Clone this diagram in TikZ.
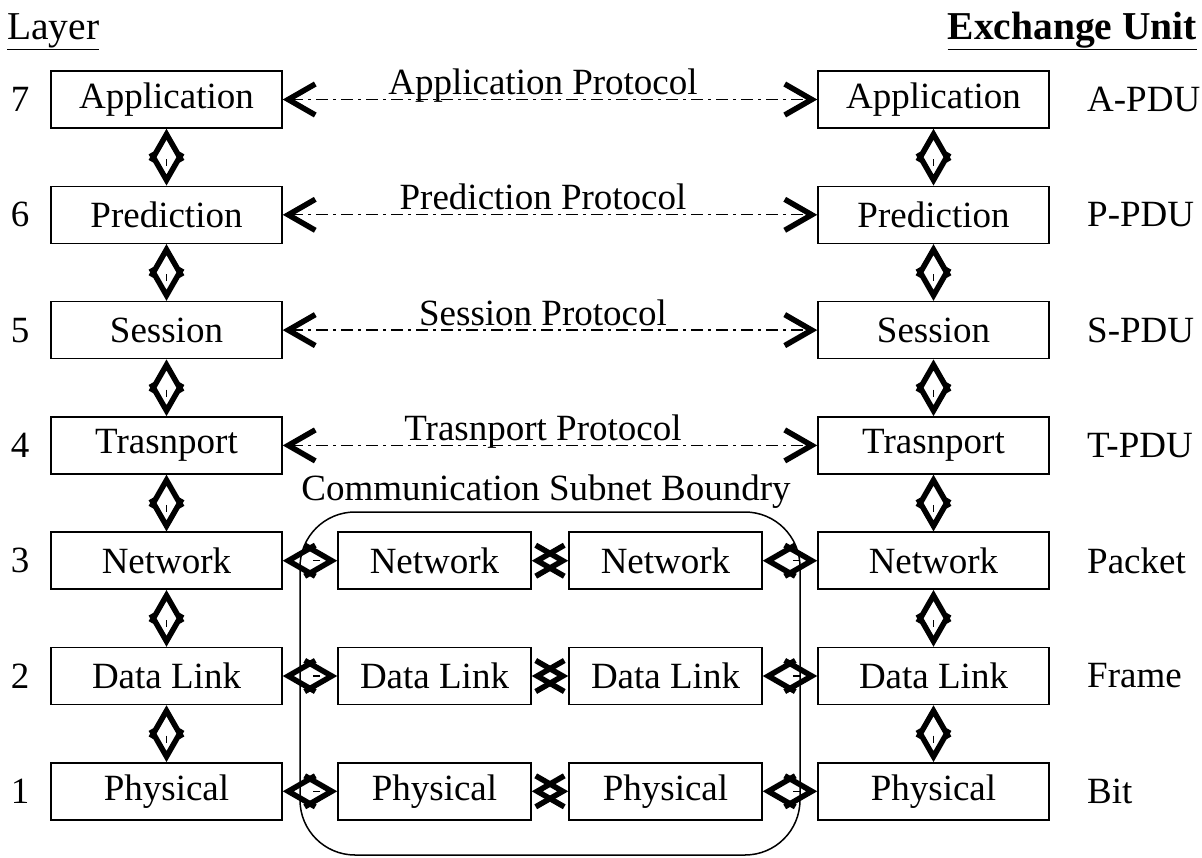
\documentclass[tikz,border=0pt]{standalone}
\usepackage{fontspec}
\setmainfont{Liberation Serif}
\usetikzlibrary{arrows.meta}
\newcommand\bigfs{\fontsize{37}{40}\selectfont}
\newcommand\headfs{\fontsize{39.5}{42}\selectfont}
\begin{document}
\begin{tikzpicture}[x=1pt,y=-1pt,
  chev/.tip={Straight Barb[length=27pt,width=31pt,line width=5.5pt]},
  box/.style={draw,line width=1.5pt,minimum height=57pt,inner sep=0pt,font=\bigfs},
  obox/.style={box,minimum width=231pt},
  mbox/.style={box,minimum width=193pt},
  txt/.style={inner sep=0pt,font=\bigfs},
  head/.style={inner sep=0pt,font=\headfs},
  conn/.style={{chev}-{chev},line width=1.5pt,dash pattern=on 0pt off 22pt on 7pt off 300pt},
  proto/.style={{chev}-{chev},line width=1.3pt,dash pattern=on 12pt off 5pt on 3pt off 5pt},
  subnet/.style={draw,line width=1.5pt,rounded corners=55pt,minimum width=500pt,minimum height=343pt,inner sep=0pt}
]
\useasboundingbox (0,0) rectangle (1202,857);
% headings
\node[head,anchor=base west] (hl) at (7,39) {\underline{Layer}};
\node[head,anchor=base east] (hr) at (1197,39) {\textbf{\underline{Exchange Unit}}};
% subnet boundary
\node[subnet] (sub) at (550,683.5) {};
\node[txt,anchor=base] (subl) at (546,500) {Communication Subnet Boundry};
% rows
\foreach \n/\t/\u in {7/Application/A-PDU,6/Prediction/P-PDU,5/Session/S-PDU,4/Trasnport/T-PDU,3/Network/Packet,2/Data Link/Frame,1/Physical/Bit}{
  \pgfmathsetmacro\yy{99.5+(7-\n)*115.3}
  \node[txt] (N\n) at (20,\yy) {\n};
  \node[obox] (L\n) at (166.5,\yy) {\t};
  \node[obox] (R\n) at (933.5,\yy) {\t};
  \node[txt,anchor=west] (U\n) at (1087,\yy) {\u};
}
% protocols
\foreach \n/\p in {7/Application Protocol,6/Prediction Protocol,5/Session Protocol,4/Trasnport Protocol}{
  \pgfmathsetmacro\yy{99.5+(7-\n)*115.3}
  \draw[proto] (L\n) -- (R\n);
  \node[txt,anchor=base] (P\n) at (543,\yy-5) {\p};
}
% vertical connectors
\foreach \a/\b in {7/6,6/5,5/4,4/3,3/2,2/1}{
  \draw[conn] (L\a) -- (L\b);
  \draw[conn] (R\a) -- (R\b);
}
% subnet nodes
\foreach \n/\t in {3/Network,2/Data Link,1/Physical}{
  \pgfmathsetmacro\yy{99.5+(7-\n)*115.3}
  \node[mbox] (ML\n) at (434.5,\yy) {\t};
  \node[mbox] (MR\n) at (665.5,\yy) {\t};
  \draw[conn] (L\n) -- (ML\n);
  \draw[conn] (ML\n) -- (MR\n);
  \draw[conn] (MR\n) -- (R\n);
}
\end{tikzpicture}
\end{document}
